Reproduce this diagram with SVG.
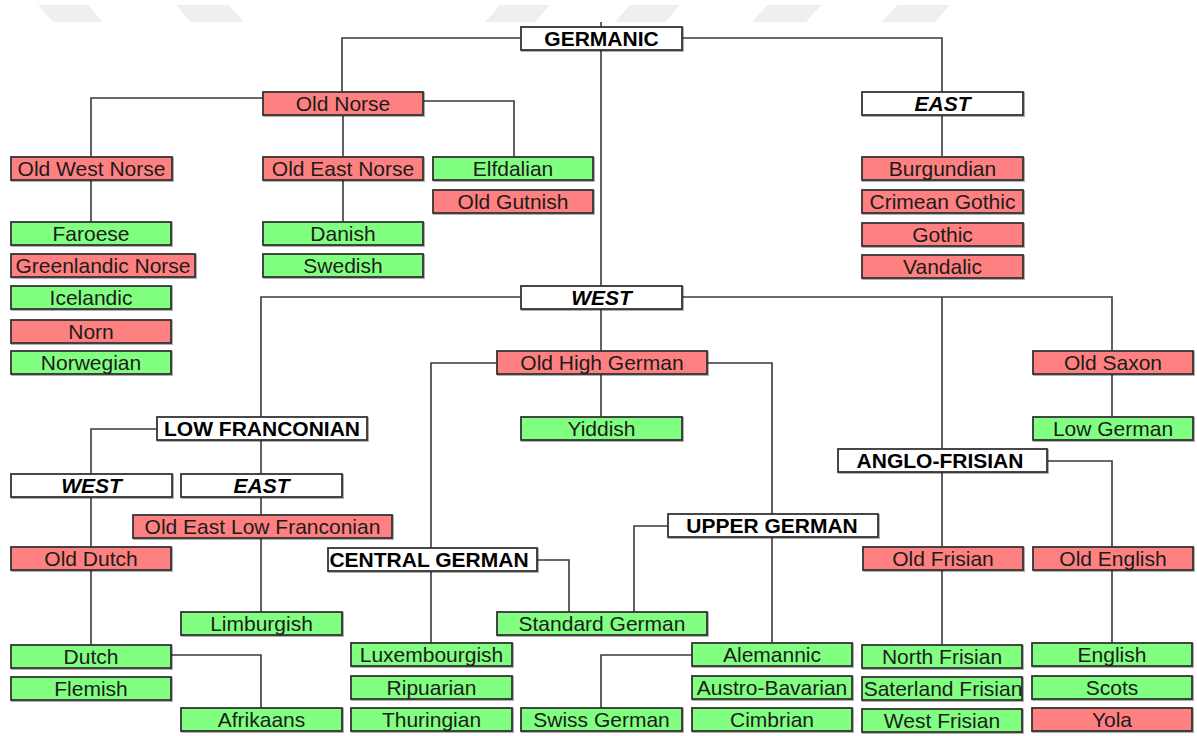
<svg xmlns="http://www.w3.org/2000/svg" width="1197" height="736" viewBox="0 0 1197 736">
<defs>
<filter id="sh" x="-5%" y="-20%" width="110%" height="150%">
<feDropShadow dx="1" dy="1" stdDeviation="0.7" flood-color="#000" flood-opacity="0.35"/>
</filter>
<style>
.box{stroke:#333;stroke-width:1.8;filter:url(#sh)}
.r{fill:#ff8080}
.g{fill:#80ff80}
.w{fill:#ffffff}
text{font-family:"Liberation Sans",Arial,sans-serif;font-size:21px;text-anchor:middle;fill:#1c1c1c}
.b{font-weight:bold;fill:#000}
.bi{font-weight:bold;font-style:italic;fill:#000}
.wm{fill:#efefef}
#connectors path{fill:none;stroke:#3a3a3a;stroke-width:1.6}
</style>
</defs>
<rect width="1197" height="736" fill="#fff"/>
<g id="watermark">
<polygon class="wm" points="38,5 88,5 103,22 53,22"/>
<polygon class="wm" points="176,5 228,5 244,22 190,22"/>
<polygon class="wm" points="500,5 550,5 535,22 485,22"/>
<polygon class="wm" points="630,5 680,5 665,22 615,22"/>
<polygon class="wm" points="767,5 821,5 806,22 752,22"/>
<polygon class="wm" points="897,5 950,5 935,22 882,22"/>
</g>
<g id="connectors">
<path d="M601,22 V27"/>
<path d="M521,38 H342 V92"/>
<path d="M682,38 H942 V92"/>
<path d="M601,50 V286"/>
<path d="M263,98 H91 V157"/>
<path d="M423,101 H514 V157"/>
<path d="M343,116 V157"/>
<path d="M91,180 V222"/>
<path d="M343,180 V222"/>
<path d="M942,116 V157"/>
<path d="M521,297 H261 V417"/>
<path d="M682,297 H1112 V351"/>
<path d="M942,297 V449"/>
<path d="M942,472 V547"/>
<path d="M942,570 V645"/>
<path d="M601,309 V351"/>
<path d="M497,363 H431 V548"/>
<path d="M707,363 H772 V514"/>
<path d="M601,374 V417"/>
<path d="M1112,374 V417"/>
<path d="M157,429 H91 V474"/>
<path d="M261,440 V474"/>
<path d="M91,497 V547"/>
<path d="M261,497 V515"/>
<path d="M261,538 V612"/>
<path d="M91,570 V645"/>
<path d="M171,655 H261 V708"/>
<path d="M1047,461 H1112 V547"/>
<path d="M1112,570 V643"/>
<path d="M668,526 H634 V612"/>
<path d="M772,537 V643"/>
<path d="M537,560 H569 V612"/>
<path d="M431,571 V643"/>
<path d="M692,655 H601 V708"/>
</g>
<g id="germanic"><rect class="box w" x="521" y="27" width="161" height="23"/><text class="b" x="601.5" y="46">GERMANIC</text></g>
<g id="old-norse"><rect class="box r" x="263" y="92" width="160" height="23"/><text x="343" y="111">Old Norse</text></g>
<g id="east"><rect class="box w" x="862" y="92" width="161" height="23"/><text class="bi" x="942.5" y="111">EAST</text></g>
<g id="old-west-norse"><rect class="box r" x="11" y="157" width="161" height="23"/><text x="91.5" y="176">Old West Norse</text></g>
<g id="old-east-norse"><rect class="box r" x="263" y="157" width="160" height="23"/><text x="343" y="176">Old East Norse</text></g>
<g id="elfdalian"><rect class="box g" x="433" y="157" width="160" height="23"/><text x="513" y="176">Elfdalian</text></g>
<g id="old-gutnish"><rect class="box r" x="433" y="190" width="160" height="23"/><text x="513" y="209">Old Gutnish</text></g>
<g id="burgundian"><rect class="box r" x="862" y="157" width="161" height="23"/><text x="942.5" y="176">Burgundian</text></g>
<g id="crimean-gothic"><rect class="box r" x="862" y="190" width="161" height="23"/><text x="942.5" y="209">Crimean Gothic</text></g>
<g id="gothic"><rect class="box r" x="862" y="223" width="161" height="23"/><text x="942.5" y="242">Gothic</text></g>
<g id="vandalic"><rect class="box r" x="862" y="255" width="161" height="23"/><text x="942.5" y="274">Vandalic</text></g>
<g id="faroese"><rect class="box g" x="11" y="222" width="160" height="23"/><text x="91" y="241">Faroese</text></g>
<g id="danish"><rect class="box g" x="263" y="222" width="160" height="23"/><text x="343" y="241">Danish</text></g>
<g id="greenlandic-norse"><rect class="box r" x="11" y="254" width="184" height="23"/><text x="103" y="273">Greenlandic Norse</text></g>
<g id="swedish"><rect class="box g" x="263" y="254" width="160" height="23"/><text x="343" y="273">Swedish</text></g>
<g id="icelandic"><rect class="box g" x="11" y="286" width="160" height="23"/><text x="91" y="305">Icelandic</text></g>
<g id="norn"><rect class="box r" x="11" y="320" width="160" height="23"/><text x="91" y="339">Norn</text></g>
<g id="norwegian"><rect class="box g" x="11" y="351" width="160" height="23"/><text x="91" y="370">Norwegian</text></g>
<g id="west"><rect class="box w" x="521" y="286" width="161" height="23"/><text class="bi" x="601.5" y="305">WEST</text></g>
<g id="old-high-german"><rect class="box r" x="497" y="351" width="210" height="23"/><text x="602" y="370">Old High German</text></g>
<g id="old-saxon"><rect class="box r" x="1033" y="351" width="160" height="23"/><text x="1113" y="370">Old Saxon</text></g>
<g id="low-franconian"><rect class="box w" x="157" y="417" width="210" height="23"/><text class="b" x="262" y="436">LOW FRANCONIAN</text></g>
<g id="yiddish"><rect class="box g" x="521" y="417" width="161" height="23"/><text x="601.5" y="436">Yiddish</text></g>
<g id="low-german"><rect class="box g" x="1033" y="417" width="160" height="23"/><text x="1113" y="436">Low German</text></g>
<g id="anglo-frisian"><rect class="box w" x="838" y="449" width="209" height="23"/><text class="b" x="940" y="468">ANGLO-FRISIAN</text></g>
<g id="lf-west"><rect class="box w" x="11" y="474" width="161" height="23"/><text class="bi" x="91.5" y="493">WEST</text></g>
<g id="lf-east"><rect class="box w" x="181" y="474" width="161" height="23"/><text class="bi" x="261.5" y="493">EAST</text></g>
<g id="old-east-low-franconian"><rect class="box r" x="133" y="515" width="259" height="23"/><text x="262.5" y="534">Old East Low Franconian</text></g>
<g id="upper-german"><rect class="box w" x="668" y="514" width="210" height="23"/><text class="b" x="772" y="533">UPPER GERMAN</text></g>
<g id="old-dutch"><rect class="box r" x="11" y="547" width="160" height="23"/><text x="91" y="566">Old Dutch</text></g>
<g id="central-german"><rect class="box w" x="328" y="548" width="209" height="23"/><text class="b" x="429" y="567">CENTRAL GERMAN</text></g>
<g id="old-frisian"><rect class="box r" x="863" y="547" width="160" height="23"/><text x="943" y="566">Old Frisian</text></g>
<g id="old-english"><rect class="box r" x="1033" y="547" width="160" height="23"/><text x="1113" y="566">Old English</text></g>
<g id="limburgish"><rect class="box g" x="181" y="612" width="161" height="23"/><text x="261.5" y="631">Limburgish</text></g>
<g id="standard-german"><rect class="box g" x="497" y="612" width="210" height="23"/><text x="602" y="631">Standard German</text></g>
<g id="dutch"><rect class="box g" x="11" y="645" width="160" height="23"/><text x="91" y="664">Dutch</text></g>
<g id="luxembourgish"><rect class="box g" x="351" y="643" width="161" height="23"/><text x="431.5" y="662">Luxembourgish</text></g>
<g id="alemannic"><rect class="box g" x="692" y="643" width="160" height="23"/><text x="772" y="662">Alemannic</text></g>
<g id="north-frisian"><rect class="box g" x="862" y="645" width="160" height="23"/><text x="942" y="664">North Frisian</text></g>
<g id="english"><rect class="box g" x="1032" y="643" width="160" height="23"/><text x="1112" y="662">English</text></g>
<g id="flemish"><rect class="box g" x="11" y="677" width="160" height="23"/><text x="91" y="696">Flemish</text></g>
<g id="ripuarian"><rect class="box g" x="351" y="676" width="161" height="23"/><text x="431.5" y="695">Ripuarian</text></g>
<g id="austro-bavarian"><rect class="box g" x="692" y="676" width="160" height="23"/><text x="772" y="695">Austro-Bavarian</text></g>
<g id="saterland-frisian"><rect class="box g" x="862" y="677" width="160" height="23"/><text x="943" y="696">Saterland Frisian</text></g>
<g id="scots"><rect class="box g" x="1032" y="676" width="160" height="23"/><text x="1112" y="695">Scots</text></g>
<g id="afrikaans"><rect class="box g" x="181" y="708" width="161" height="23"/><text x="261.5" y="727">Afrikaans</text></g>
<g id="thuringian"><rect class="box g" x="351" y="708" width="161" height="23"/><text x="431.5" y="727">Thuringian</text></g>
<g id="swiss-german"><rect class="box g" x="521" y="708" width="161" height="23"/><text x="601.5" y="727">Swiss German</text></g>
<g id="cimbrian"><rect class="box g" x="692" y="708" width="160" height="23"/><text x="772" y="727">Cimbrian</text></g>
<g id="west-frisian"><rect class="box g" x="862" y="709" width="160" height="23"/><text x="942" y="728">West Frisian</text></g>
<g id="yola"><rect class="box r" x="1032" y="708" width="160" height="23"/><text x="1112" y="727">Yola</text></g>
</svg>
